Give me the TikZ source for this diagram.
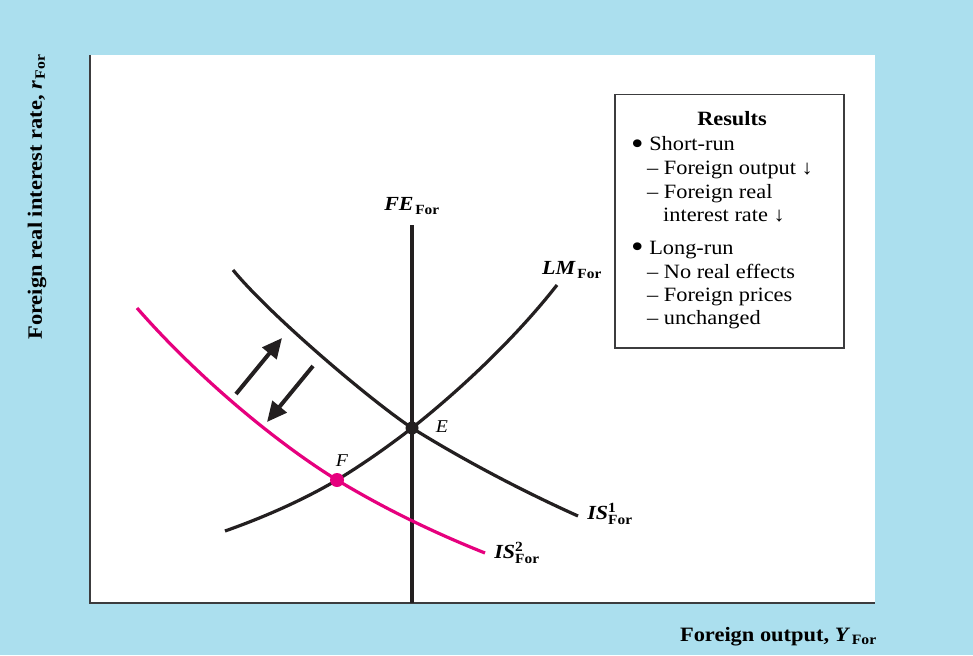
\documentclass[tikz,border=0pt]{standalone}
\usepackage{amsmath}
\usepackage{fontspec}
\setmainfont{Liberation Serif}[FakeStretch=1.1]
\usetikzlibrary{arrows.meta}
\definecolor{bgblue}{RGB}{171,223,238}
\definecolor{curveblack}{RGB}{35,31,32}
\definecolor{ismagenta}{RGB}{230,0,126}
\definecolor{axisgray}{RGB}{60,60,62}
\newcommand{\bigbul}{\raisebox{-0.42ex}{\scalebox{1.6}{•}}}
\tikzset{
  curve/.style={curveblack, line width=3.2pt},
  magcurve/.style={ismagenta, line width=3.2pt},
  bigarrow/.style={curveblack, line width=4pt, -{Triangle[length=20pt,width=18pt]}},
  curvelabel/.style={font=\fontsize{20}{24}\selectfont, inner sep=0pt},
  pointlabel/.style={font=\fontsize{18}{22}\selectfont\itshape, inner sep=0pt},
  boxtext/.style={font=\fontsize{20.3}{24}\selectfont, inner sep=0pt, anchor=base west},
  axislabel/.style={font=\fontsize{20.4}{24}\selectfont\bfseries, inner sep=0pt},
}
\begin{document}
\begin{tikzpicture}[x=1pt,y=-1pt]
\useasboundingbox (0,0) rectangle (973,655);
\fill[bgblue] (0,0) rectangle (973,655);
\fill[white] (90,55) rectangle (875,603);
% axes
\coordinate (ytop) at (90,55);
\coordinate (origin) at (90,603);
\coordinate (xend) at (875,603);
\draw[axisgray, line width=2pt] (ytop) -- (origin) -- (xend);
% key points
\coordinate (E) at (412,428);
\coordinate (F) at (337,480);
\coordinate (FEtop) at (412,225);
\coordinate (FEbot) at (412,603);
% FE line
\draw[curveblack, line width=3.5pt] (FEtop) -- (FEbot);
% IS1
\coordinate (IS1a) at (233,270);
\coordinate (IS1b) at (578,516);
\draw[curve] (IS1a) .. controls (270,315) and (370,400) .. (E)
  .. controls (460,458) and (520,490) .. (IS1b);
% LM
\coordinate (LMa) at (225,531);
\coordinate (LMb) at (557,285);
\draw[curve] (LMa) .. controls (265,517) and (305,499) .. (F)
  .. controls (365,463) and (390,445) .. (E)
  .. controls (450,398) and (510,345) .. (LMb);
% IS2
\coordinate (IS2a) at (137,308);
\coordinate (IS2b) at (485,553);
\draw[magcurve] (IS2a) .. controls (200,380) and (280,445) .. (F)
  .. controls (390,512) and (440,535) .. (IS2b);
% dots
\fill[curveblack] (E) circle (6.5pt);
\fill[ismagenta] (F) circle (7pt);
% arrows
\coordinate (upA) at (236,394);
\coordinate (upB) at (282,338);
\coordinate (dnA) at (313,366);
\coordinate (dnB) at (267,422);
\draw[bigarrow] (upA) -- (upB);
\draw[bigarrow] (dnA) -- (dnB);
% curve labels
\node[curvelabel] (FElbl) at (412,206) {$\textbf{\textit{FE}}_{\mkern2mu\textbf{For}}$};
\node[curvelabel] (LMlbl) at (572,270) {$\textbf{\textit{LM}}_{\mkern2mu\textbf{For}}$};
\node[curvelabel] (IS1lbl) at (610,514) {$\textbf{\textit{IS}}^{\textbf{1}}_{\textbf{For}}$};
\node[curvelabel] (IS2lbl) at (517,553) {$\textbf{\textit{IS}}^{\textbf{2}}_{\textbf{For}}$};
\node[pointlabel] (Elbl) at (442,427) {E};
\node[pointlabel] (Flbl) at (342,461) {F};
% results box
\node[draw=axisgray, line width=1.5pt, minimum width=229pt, minimum height=253pt, anchor=north west, inner sep=0pt] (resbox) at (614,94) {};
\node[boxtext, anchor=base, font=\fontsize{20.3}{24}\selectfont\bfseries] (r0) at (732,126) {Results};
\node[boxtext] (r1) at (631,151) {\bigbul\ Short-run};
\node[boxtext] (r2) at (647,175) {– Foreign output ↓};
\node[boxtext] (r3) at (647,198) {– Foreign real};
\node[boxtext] (r4) at (663,221) {interest rate ↓};
\node[boxtext] (r5) at (631,254) {\bigbul\ Long-run};
\node[boxtext] (r6) at (647,278) {– No real effects};
\node[boxtext] (r7) at (647,301) {– Foreign prices};
\node[boxtext] (r8) at (647,324) {– unchanged};
% axis labels
\node[axislabel, anchor=base east] (xlbl) at (877,641) {Foreign output, $\textbf{\textit{Y}}_{\mkern2mu\textbf{For}}$};
\node[axislabel, rotate=90] (ylbl) at (37,197) {Foreign real interest rate, $\textbf{\textit{r}}_{\mkern2mu\textbf{For}}$};
\end{tikzpicture}
\end{document}
